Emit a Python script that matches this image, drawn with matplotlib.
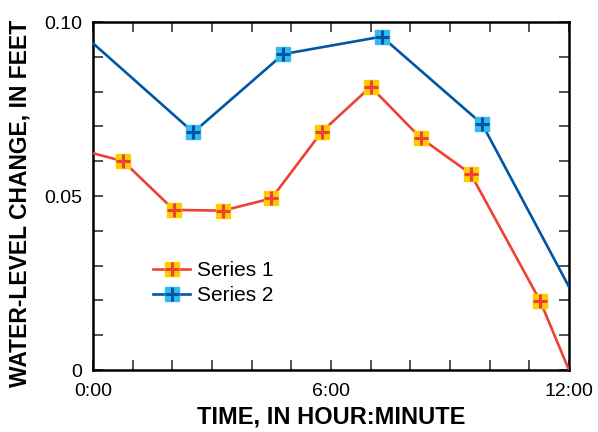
import matplotlib
matplotlib.use("Agg")
import matplotlib.pyplot as plt
from matplotlib.ticker import MultipleLocator, FixedLocator

plt.rcParams["font.family"] = ["Liberation Sans", "DejaVu Sans"]

# Water-level change readings (hours since 0:00, feet)
hours1 = [0, 0.76, 2.04, 3.27, 4.50, 5.77, 7.00, 8.26, 9.52, 11.27, 12]
level1 = [0.0623, 0.0600, 0.0460, 0.0458, 0.0493, 0.0685, 0.0814, 0.0667, 0.0564, 0.0199, 0.0]

hours2 = [0, 2.53, 4.80, 7.28, 9.81, 12]
level2 = [0.0939, 0.0683, 0.0908, 0.0958, 0.0707, 0.0239]

series_names = ["Series 1", "Series 2"]
xtick_hours = [0, 6, 12]
xtick_labels = ["0:00", "6:00", "12:00"]
ytick_vals = [0, 0.05, 0.10]
ytick_labels = ["0", "0.05", "0.10"]

red, gold = "#ee4035", "#ffcc00"
blue, sky = "#0055a5", "#33bbee"

fig = plt.figure(figsize=(5.98, 4.32), dpi=100)
ax = fig.add_axes([0.1555, 0.1435, 0.796, 0.8055])


def draw_series(x, y, line_color, fill_color):
    inner = slice(1, -1)  # end points sit on the frame and carry no marker
    ln, = ax.plot(x, y, color=line_color, lw=1.9, marker="s", ms=10,
                  mfc=fill_color, mec=fill_color, markevery=inner, zorder=3)
    cross, = ax.plot(x[inner], y[inner], ls="none", marker="+", ms=10,
                     mew=2.2, color=line_color, zorder=4)
    return ln, cross


h1 = draw_series(hours1, level1, red, gold)
h2 = draw_series(hours2, level2, blue, sky)

ax.set_xlim(0, 12)
ax.set_ylim(0, 0.10)
ax.xaxis.set_major_locator(FixedLocator(xtick_hours))
ax.set_xticklabels(xtick_labels)
ax.xaxis.set_minor_locator(MultipleLocator(1))
ax.yaxis.set_major_locator(FixedLocator(ytick_vals))
ax.set_yticklabels(ytick_labels)
ax.yaxis.set_minor_locator(MultipleLocator(0.01))

for which in ("major", "minor"):
    ax.tick_params(axis="both", which=which, direction="in", length=7, width=1.2,
                   color="#333333", top=True, right=True)
ax.tick_params(axis="x", which="major", labelsize=14, pad=9.5)
ax.tick_params(axis="y", which="major", labelsize=14, pad=8)
for sp in ax.spines.values():
    sp.set_linewidth(1.8)

ax.set_xlabel("TIME, IN HOUR:MINUTE", fontsize=17, fontweight="bold", labelpad=4)
ax.set_ylabel("WATER-LEVEL CHANGE, IN FEET", fontsize=16.5, fontweight="bold")
ax.yaxis.set_label_coords(-0.13, 0.478)

ax.legend([h1, h2], series_names, loc="center left", bbox_to_anchor=(0.126, 0.249),
          frameon=False, fontsize=15, handlelength=1.8, handletextpad=0.3,
          labelspacing=0.28, borderpad=0, borderaxespad=0)

fig.savefig("out.png", dpi=100)
